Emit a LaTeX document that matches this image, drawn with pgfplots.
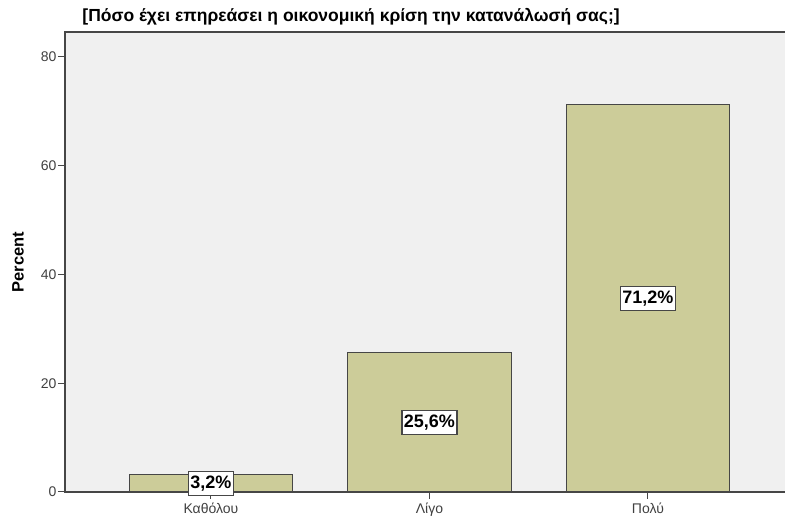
\documentclass[border=0pt]{standalone}
\usepackage{pgfplots}
\pgfplotsset{compat=1.18}
\usepackage{fontspec}
\setmainfont{Liberation Sans}
\definecolor{bgc}{RGB}{240,240,240}
\definecolor{barc}{RGB}{204,204,153}
\definecolor{edge}{RGB}{70,70,70}
\begin{document}
\begin{tikzpicture}[x=1bp,y=1bp]
\useasboundingbox (0,0) rectangle (785,523);
\begin{axis}[
    at={(65bp,31bp)}, anchor=south west,
    scale only axis, width=730bp, height=460bp,
    xmin=-0.668, xmax=2.673,
    ymin=0, ymax=84.6,
    axis background/.style={fill=bgc},
    axis line style={draw=edge, line width=1.2bp},
    xtick={0,1,2},
    xticklabels={Καθόλου,Λίγο,Πολύ},
    ytick={0,20,40,60,80},
    tick pos=left,
    tick align=outside,
    major tick length=7bp,
    tick style={draw=edge, line width=1bp},
    ticklabel style={font=\fontsize{14bp}{16bp}\selectfont, text=black!75},
    yticklabel style={xshift=2bp},
    /pgf/number format/assume math mode=true,
]
% bars
\addplot[ybar, bar width=0.75, fill=barc, draw=edge, line width=1bp]
    coordinates {(0,3.2) (1,25.6) (2,71.2)};
% value labels in the middle of each bar
\addplot[draw=none, mark=none, nodes near coords, point meta=explicit symbolic,
    every node near coord/.append style={anchor=center, fill=white, draw=edge,
        line width=1.2bp, inner xsep=2bp, inner ysep=4.5bp,
        font=\bfseries\fontsize{18bp}{21bp}\selectfont, text=black}]
    coordinates {(0,1.6) [3,2\%] (1,12.8) [25,6\%] (2,35.6) [71,2\%]};
\end{axis}
\node[font=\bfseries\fontsize{17.5bp}{20bp}\selectfont, anchor=base] at (351,501)
    {[Πόσο έχει επηρεάσει η οικονομική κρίση την κατανάλωσή σας;]};
\node[rotate=90, font=\bfseries\fontsize{16.5bp}{19bp}\selectfont] at (18,261) {Percent};
\end{tikzpicture}
\end{document}
